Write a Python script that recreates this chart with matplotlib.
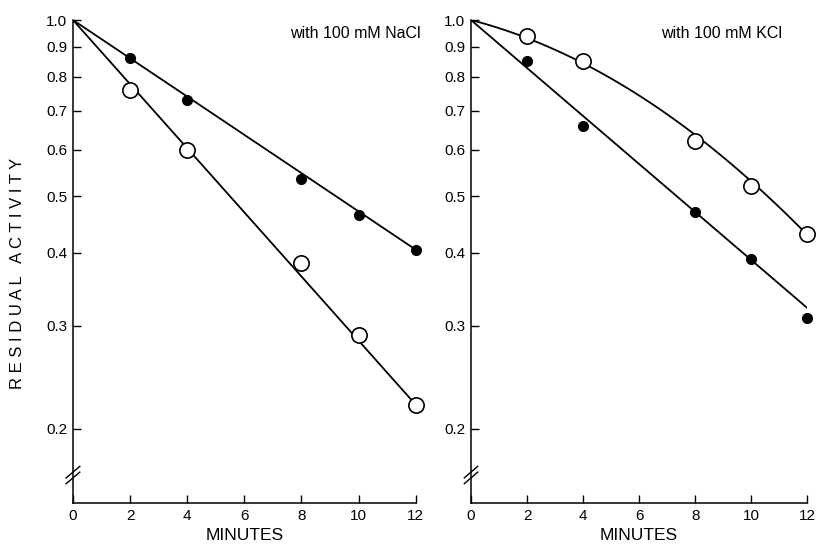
import matplotlib
matplotlib.use("Agg")
import matplotlib.pyplot as plt
import numpy as np

plt.rcParams['font.family'] = ['Liberation Sans', 'DejaVu Sans']

minutes = [2, 4, 8, 10, 12]
ytick_vals = [0.2, 0.3, 0.4, 0.5, 0.6, 0.7, 0.8, 0.9, 1.0]
ytick_labels = ["0.2", "0.3", "0.4", "0.5", "0.6", "0.7", "0.8", "0.9", "1.0"]
xtick_vals = [0, 2, 4, 6, 8, 10, 12]

# NaCl panel
nacl_filled = [0.86, 0.73, 0.535, 0.465, 0.405]
nacl_open = [0.76, 0.60, 0.385, 0.29, 0.22]
nacl_filled_line = [1.0, 0.405]
nacl_open_line = [1.0, 0.22]

# KCl panel
kcl_open = [0.94, 0.85, 0.62, 0.52, 0.43]
kcl_filled = [0.85, 0.66, 0.47, 0.39, 0.31]
kcl_filled_line = [1.0, 0.322]
line_t = [0, 12]

# smooth curve through open KCl points
kcl_curve_t = [2, 4, 6, 8, 10, 12]
kcl_curve = [0.945, 0.86, 0.74, 0.625, 0.525, 0.435]

fig = plt.figure(figsize=(8.18, 5.47), dpi=100)
ax1 = fig.add_axes([0.0892, 0.0804, 0.419, 0.883])
ax2 = fig.add_axes([0.5758, 0.0804, 0.411, 0.883])


def style_axis(ax):
    ax.set_yscale('log')
    ax.set_ylim(0.1494, 1.0)
    ax.set_xlim(0, 12)
    for s in ['top', 'right']:
        ax.spines[s].set_visible(False)
    ax.spines['left'].set_linewidth(1.1)
    ax.spines['bottom'].set_linewidth(1.1)
    ax.set_yticks(ytick_vals)
    ax.set_yticklabels(ytick_labels)
    ax.yaxis.set_minor_locator(matplotlib.ticker.NullLocator())
    ax.set_xticks(xtick_vals)
    ax.set_xticklabels([str(v) for v in xtick_vals])
    ax.tick_params(direction='in', length=6, width=1.0, labelsize=11, pad=4)
    ax.set_xlabel("MINUTES", fontsize=12.5, labelpad=4)
    # axis break marks
    for dy in (-0.006, 0.006):
        ax.plot([-0.02, 0.02], [0.058 + dy - 0.012, 0.058 + dy + 0.012],
                transform=ax.transAxes, color='black', lw=1.0, clip_on=False)


style_axis(ax1)
style_axis(ax2)

lk = dict(color='black', lw=1.3, zorder=2)
fk = dict(marker='o', ms=7, color='black', ls='none', zorder=3, clip_on=False)
ok = dict(marker='o', ms=11, mfc='white', mec='black', mew=1.2, ls='none', zorder=3, clip_on=False)

ax1.plot(line_t, nacl_filled_line, **lk)
ax1.plot(line_t, nacl_open_line, **lk)
ax1.plot(minutes, nacl_filled, **fk)
ax1.plot(minutes, nacl_open, **ok)
ax1.text(7.6, 0.975, "with 100 mM NaCl", fontsize=11.5, va='top', ha='left')

# quadratic in log space, forced through 1.0 at t=0
t_arr = np.array(kcl_curve_t, dtype=float)
A = np.column_stack([t_arr, t_arr ** 2])
coef, *_ = np.linalg.lstsq(A, np.log10(kcl_curve), rcond=None)
tt = np.linspace(0, 12, 100)
ax2.plot(tt, 10 ** (coef[0] * tt + coef[1] * tt ** 2), **lk)
ax2.plot(line_t, kcl_filled_line, **lk)
ax2.plot(minutes, kcl_open, **ok)
ax2.plot(minutes, kcl_filled, **fk)
ax2.text(6.8, 0.975, "with 100 mM KCl", fontsize=11.5, va='top', ha='left')

fig.text(0.022, 0.5, "R E S I D U A L   A C T I V I T Y", rotation=90,
         fontsize=12, va='center', ha='center')

fig.savefig("out.png", dpi=100)
